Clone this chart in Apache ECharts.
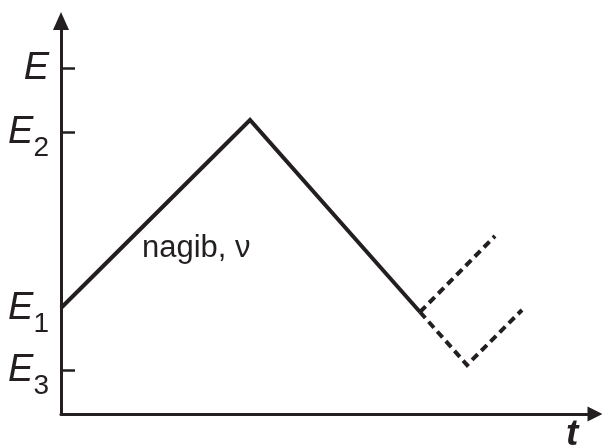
<!DOCTYPE html>
<html>
<head>
    <meta charset="utf-8" />
    <title>E - t</title>
    <script src="https://cdn.jsdelivr.net/npm/echarts@6/dist/echarts.min.js"></script>
    <style>
        html, body { margin: 0; padding: 0; background: #fff; }
        #chart { width: 602px; height: 448px; }
    </style>
</head>
<body>
    <div id="chart"></div>
    <script type="text/javascript">
        var ink = '#231f20';

        // levels on the E axis
        var levelValues = [4.4, 10.6, 28.2, 34.6];
        var levelSubs = ['3', '1', '2', ''];
        var tickValues = [4.4, 28.2, 34.6];

        // solid path: rise (nagib) then fall
        var mainT = [0, 18.9, 35.9];
        var mainE = [10.6, 29.4, 10.2];
        // dashed continuations
        var branchUpT = [35.9, 43.4];
        var branchUpE = [10.2, 17.8];
        var branchDownT = [35.9, 40.6, 46.1];
        var branchDownE = [10.2, 4.9, 10.4];

        function pairs(xs, ys) {
            var out = [];
            for (var i = 0; i < xs.length; i++) out.push([xs[i], ys[i]]);
            return out;
        }

        var chart = echarts.init(document.getElementById('chart'));

        var option = {
            animation: false,
            backgroundColor: '#fff',
            grid: {
                left: 61,
                right: 7,
                top: 21,
                bottom: 34,
                containLabel: false,
                outerBoundsMode: 'none'
            },
            xAxis: {
                type: 'value',
                min: 0,
                max: 53.4,
                name: 't',
                nameLocation: 'end',
                nameGap: -29,
                nameTextStyle: {
                    color: ink,
                    fontFamily: 'Liberation Sans',
                    fontSize: 37,
                    fontStyle: 'italic',
                    fontWeight: 'bold',
                    verticalAlign: 'top',
                    padding: [2, 0, 0, 0]
                },
                axisLine: {
                    show: true,
                    symbol: ['none', 'triangle'],
                    symbolSize: [15, 15],
                    lineStyle: { color: ink, width: 3 }
                },
                axisTick: { show: false },
                axisLabel: { show: false },
                splitLine: { show: false }
            },
            yAxis: {
                type: 'value',
                min: 0,
                max: 39.3,
                axisLine: {
                    show: true,
                    symbol: ['none', 'triangle'],
                    symbolSize: [16, 18],
                    lineStyle: { color: ink, width: 3 }
                },
                axisTick: {
                    show: true,
                    inside: true,
                    length: 14,
                    customValues: tickValues,
                    lineStyle: { color: ink, width: 2.5 }
                },
                axisLabel: {
                    show: true,
                    margin: 12,
                    customValues: levelValues,
                    formatter: function (v) {
                        var i = levelValues.indexOf(v);
                        var sub = i >= 0 ? levelSubs[i] : '';
                        return sub ? '{e|E}{s|' + sub + '}' : '{e0|E}';
                    },
                    rich: {
                        e0: {
                            color: ink, fontFamily: 'Liberation Sans', fontSize: 38,
                            fontStyle: 'italic', lineHeight: 38
                        },
                        e: {
                            color: ink, fontFamily: 'Liberation Sans', fontSize: 38,
                            fontStyle: 'italic', lineHeight: 38, verticalAlign: 'top'
                        },
                        s: {
                            color: ink, fontFamily: 'Liberation Sans', fontSize: 28,
                            lineHeight: 22, padding: [21, 0, 6, 0], verticalAlign: 'top'
                        }
                    }
                },
                splitLine: { show: false }
            },
            graphic: [{
                type: 'text',
                left: 142,
                top: 233,
                style: {
                    text: 'nagib, \u03bd',
                    fill: ink,
                    font: '31px "Liberation Sans", Arial, sans-serif'
                }
            }],
            series: [{
                type: 'line',
                data: pairs(mainT, mainE),
                symbol: 'none',
                lineStyle: { color: ink, width: 4, join: 'miter' },
                z: 5
            }, {
                type: 'line',
                data: pairs(branchUpT, branchUpE),
                symbol: 'none',
                lineStyle: { color: ink, width: 4, type: [8, 5], cap: 'butt' },
                z: 5
            }, {
                type: 'line',
                data: pairs(branchDownT, branchDownE),
                symbol: 'none',
                lineStyle: { color: ink, width: 4, type: [8, 5], cap: 'butt', join: 'miter' },
                z: 5
            }]
        };

        chart.setOption(option);
    </script>
</body>
</html>
